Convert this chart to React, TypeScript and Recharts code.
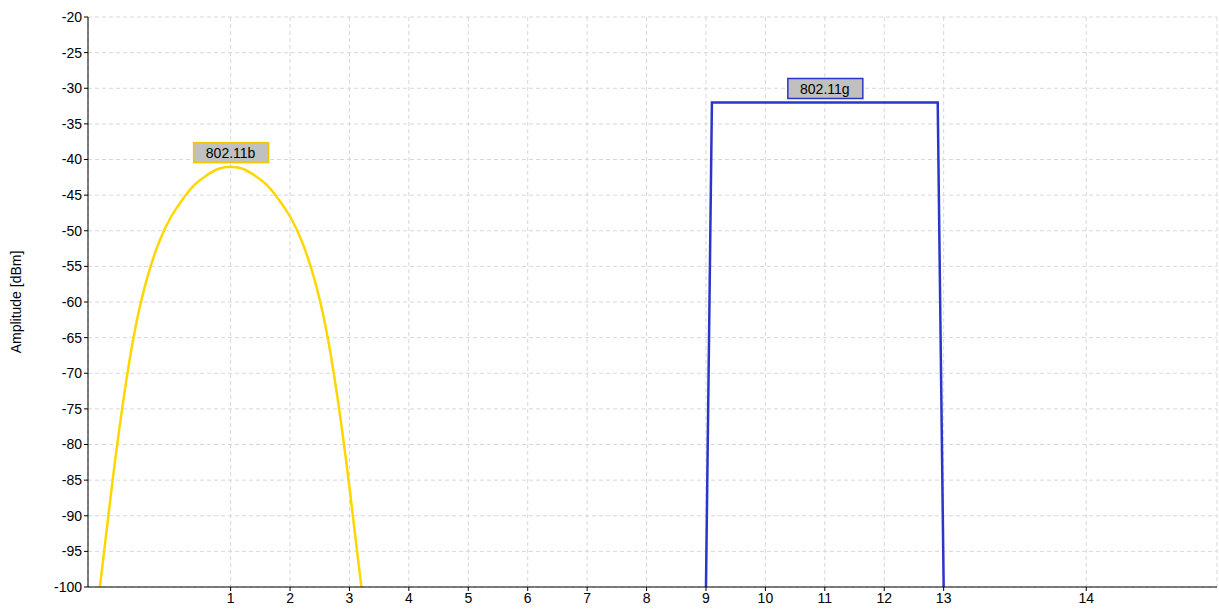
import { LineChart, Line, XAxis, YAxis, CartesianGrid, ReferenceDot } from "recharts";

// frequency in MHz, amplitude in dBm
const bFreq = [2401, 2402, 2403, 2404, 2405, 2406, 2407, 2408, 2409, 2410, 2411, 2412,
  2413, 2414, 2415, 2416, 2417, 2418, 2419, 2420, 2421, 2422, 2423];
const bAmp = [-100, -86, -73.5, -63.5, -56.5, -51.5, -48, -45.5, -43.5, -42.2, -41.3, -41,
  -41.3, -42.2, -43.5, -45.5, -48, -51.5, -56.5, -63.5, -73.5, -86, -100];
const gFreq = [2452, 2452.5, 2471.5, 2472];
const gAmp = [-100, -32, -32, -100];

const channelFreqs = [2412, 2417, 2422, 2427, 2432, 2437, 2442, 2447, 2452, 2457, 2462, 2467, 2472, 2484];
const channelLabels = ["1", "2", "3", "4", "5", "6", "7", "8", "9", "10", "11", "12", "13", "14"];
const yTicks = [-100, -95, -90, -85, -80, -75, -70, -65, -60, -55, -50, -45, -40, -35, -30, -25, -20];

const bData = bFreq.map((f, i) => ({ f, a: bAmp[i] }));
const gData = gFreq.map((f, i) => ({ f, a: gAmp[i] }));

const font = "'Liberation Sans', Arial, sans-serif";

const Tag = (text: string, border: string) => (props: any) => {
  const { viewBox } = props;
  const cx = viewBox.x;
  const cy = viewBox.y;
  return (
    <g>
      <rect x={cx - 37} y={cy - 24} width={75} height={20} fill="#c0c0c0" stroke={border} strokeWidth={1.5} />
      <text x={cx} y={cy - 9} textAnchor="middle" fontSize={14} fontFamily={font} fill="#000">{text}</text>
    </g>
  );
};

export default function App() {
  return (
    <div style={{ position: "absolute", left: 0, top: 0, background: "#fff" }}>
      <LineChart width={1219} height={611} margin={{ top: 17, right: 2, bottom: 4, left: 38 }}>
        <CartesianGrid xAxisId="b" stroke="#d8d8d8" strokeDasharray="4 3" />
        <XAxis xAxisId="b" dataKey="f" type="number" domain={[2400, 2495]} ticks={channelFreqs}
          tickFormatter={(v) => channelLabels[channelFreqs.indexOf(v)]} allowDataOverflow
          stroke="#000" tickSize={4} height={20}
          tick={{ fill: "#000", fontSize: 14, fontFamily: font }} />
        <XAxis xAxisId="top" orientation="top" type="number" domain={[2400, 2495]} tick={false} tickLine={false} stroke="#000" height={0} />
        <YAxis dataKey="a" type="number" domain={[-100, -20]} ticks={yTicks} interval={0} stroke="#000" tickSize={4} width={50}
          tick={{ fill: "#000", fontSize: 14, fontFamily: font }}
          label={{ value: "Amplitude [dBm]", angle: -90, position: "insideLeft", offset: -22, style: { fontSize: 14, fontFamily: font, fill: "#000", textAnchor: "middle" } }} />
        <YAxis yAxisId="right" orientation="right" type="number" domain={[-100, -20]} tick={false} tickLine={false} stroke="#000" width={0} />
        <Line xAxisId="b" data={bData} dataKey="a" type="natural" stroke="#ffd700" strokeWidth={2.5} dot={false} isAnimationActive={false} />
        <Line xAxisId="b" data={gData} dataKey="a" type="linear" stroke="#2a36c8" strokeWidth={2.5} dot={false} isAnimationActive={false} />
        <ReferenceDot xAxisId="b" x={2412} y={-41} r={0} label={Tag("802.11b", "#f0c800")} />
        <ReferenceDot xAxisId="b" x={2462} y={-32} r={0} label={Tag("802.11g", "#2a36c8")} />
      </LineChart>
    </div>
  );
}
